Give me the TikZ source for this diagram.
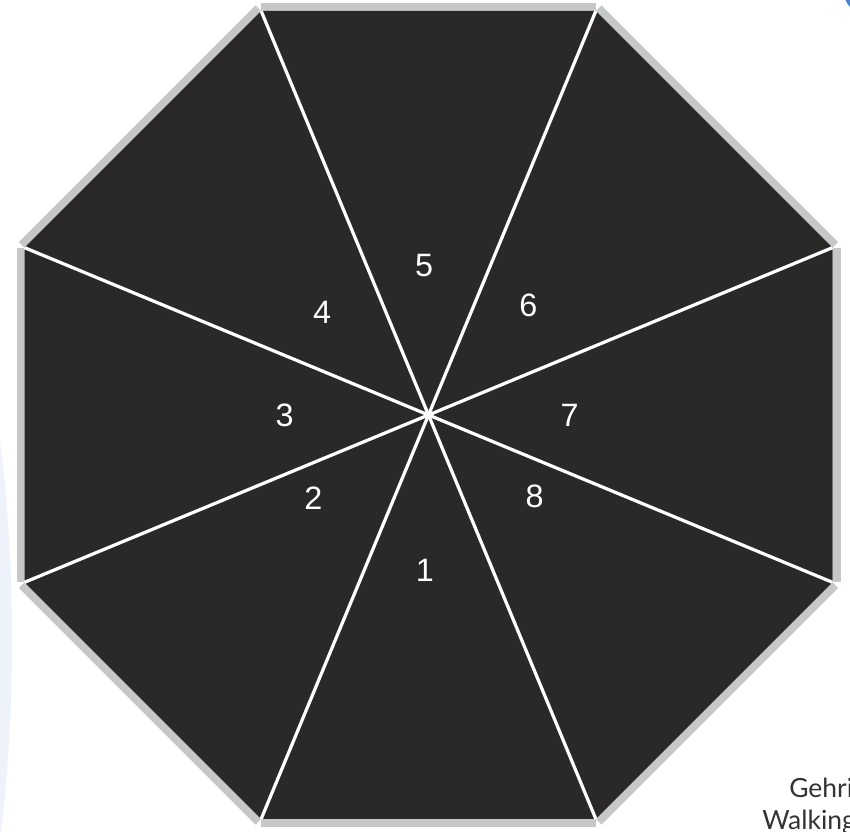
\documentclass[tikz,border=0pt]{standalone}
\usepackage{fontspec}
\setmainfont{Liberation Sans}
\newfontfamily\notefont{Lato}
\usetikzlibrary{calc}

\definecolor{wedgedark}{HTML}{2B2927}
\definecolor{rimgrey}{HTML}{C6C8C7}
\definecolor{pageblue}{HTML}{EEF2FA}
\definecolor{ringblue}{HTML}{4A80C8}
\definecolor{notegrey}{HTML}{333333}

\begin{document}
\begin{tikzpicture}[
    x=0.025cm, y=0.025cm,
    wedge/.style={fill=wedgedark},
    rim/.style={fill=rimgrey},
    spoke/.style={draw=white, line width=2.3pt},
    seclabel/.style={text=white, font=\fontsize{23}{27}\selectfont, inner sep=0pt},
    notetext/.style={text=notegrey, font=\notefont\fontsize{18.8}{22}\selectfont,
        anchor=base west, inner sep=0pt}
]
\useasboundingbox (0,0) rectangle (850,832);
\clip (0,0) rectangle (850,832);

% Background bits
\fill[pageblue] (-88,192) ellipse (100 and 420);
\fill[ringblue] (845.5,832) -- (850,832) -- (850,825) to[bend left=10] cycle;

% Octagon corners
\coordinate (c) at (428.5,417);
\foreach \k in {0,...,7}
    \coordinate (v\k) at ($(c)+(22.5+45*\k:437.3)$);

% Grey rims
\foreach \k [evaluate=\k as \m using {int(mod(\k+1,8))}] in {0,...,7}
    \fill[rim] (v\k) -- (v\m) -- ($(v\m)+(45+45*\k:8)$) -- ($(v\k)+(45+45*\k:8)$) -- cycle;

% Wedges
\fill[wedge] (v0) -- (v1) -- (v2) -- (v3) -- (v4) -- (v5) -- (v6) -- (v7) -- cycle;
\foreach \k in {0,...,7}
    \draw[spoke] (c) -- (v\k);

% Labels
\foreach \n/\ang/\rad in {1/268.7/155, 2/215.8/142, 3/180/144, 4/136/148,
        5/91.7/150, 6/47.6/148, 7/0/141, 8/-37.6/134}
    \node[seclabel] (sec\n) at ($(c)+(\ang:\rad)$) {\n};

% Cut-off note
\node[notetext] (gehri) at (789,34) {Gehri};
\node[notetext] (walking) at (762,2) {Walking};

\end{tikzpicture}
\end{document}
